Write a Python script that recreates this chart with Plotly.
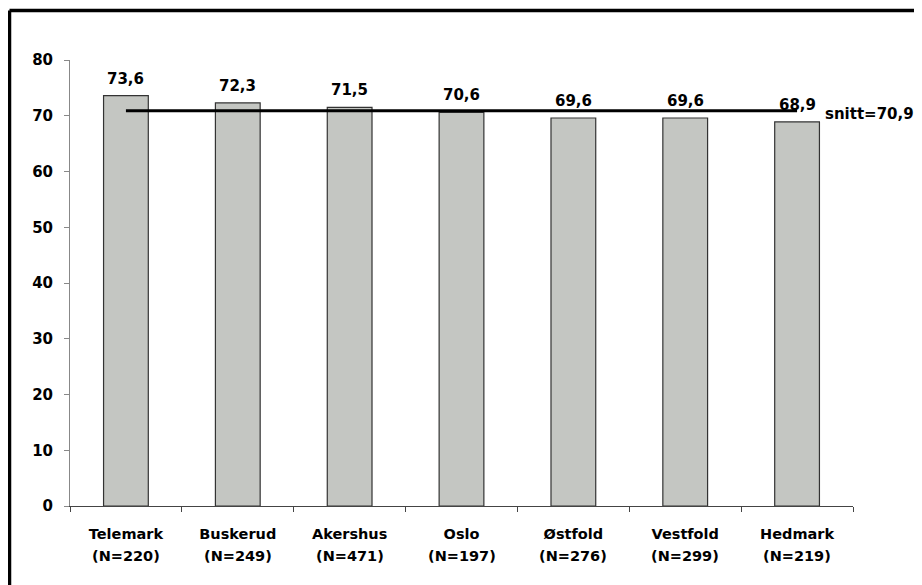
import plotly.graph_objects as go

categories = ["Telemark", "Buskerud", "Akershus", "Oslo", "Østfold", "Vestfold", "Hedmark"]
sample_sizes = [220, 249, 471, 197, 276, 299, 219]
values = [73.6, 72.3, 71.5, 70.6, 69.6, 69.6, 68.9]
mean_value = 70.9
y_ticks = [0, 10, 20, 30, 40, 50, 60, 70, 80]

bar_text = [f"<b>{v:.1f}</b>".replace(".", ",") for v in values]

font_family = "DejaVu Sans, Verdana, sans-serif"

# page has an 8px body margin; margins below compensate
ML, MR, MT, MB = 62, 77, 52, 87
W, H = 922, 585
pw, ph = W - ML - MR, H - MT - MB
bx = (1.5 - ML) / pw
by = 1 + (MT - 2.5) / ph

fig = go.Figure()
fig.add_trace(go.Bar(
    x=categories, y=values, width=0.4,
    marker=dict(color="#C4C6C2", line=dict(color="#333333", width=1.2)),
    hoverinfo="skip",
))
fig.add_trace(go.Scatter(
    x=[categories[0], categories[-1]], y=[mean_value, mean_value],
    mode="lines", line=dict(color="black", width=3.2),
    hoverinfo="skip",
))
for c, v, t, n in zip(categories, values, bar_text, sample_sizes):
    fig.add_annotation(
        x=c, y=v, xref="x", yref="y", text=t, showarrow=False,
        yanchor="bottom", yshift=6,
        font=dict(family=font_family, size=15, color="black"),
    )
    fig.add_annotation(
        x=c, y=0, xref="x", yref="paper", text=f"<b>(N={n})</b>", showarrow=False,
        yanchor="middle", yshift=-50,
        font=dict(family=font_family, size=14.5, color="black"),
    )
fig.add_annotation(
    x=categories[-1], y=mean_value, xref="x", yref="y",
    text="<b>snitt=" + f"{mean_value:.1f}".replace(".", ",") + "</b>",
    showarrow=False, xanchor="left", xshift=26, yshift=-3,
    font=dict(family=font_family, size=15, color="black"),
)

fig.update_layout(
    width=W, height=H,
    margin=dict(l=ML, r=MR, t=MT, b=MB, pad=0),
    paper_bgcolor="white", plot_bgcolor="white",
    showlegend=False,
    font=dict(family=font_family, size=14, color="black"),
    shapes=[
        dict(type="line", xref="paper", yref="paper", x0=bx, x1=1.2, y0=by, y1=by,
             line=dict(color="black", width=3.5)),
        dict(type="line", xref="paper", yref="paper", x0=bx, x1=bx, y0=by, y1=-0.3,
             line=dict(color="black", width=3.5)),
    ],
)
fig.update_xaxes(
    type="category", range=[-0.5, len(categories) - 0.5],
    tickvals=categories, ticktext=[f"<b>{c}</b>" for c in categories],
    showline=True, linecolor="#444444", linewidth=1,
    ticks="outside", ticklen=5, tickcolor="#444444", tickson="boundaries",
    ticklabelstandoff=15,
    showgrid=False, tickfont=dict(family=font_family, size=14.5, color="black"),
)
fig.update_yaxes(
    range=[0, 80], tickvals=y_ticks, ticktext=[f"<b>{t}</b>" for t in y_ticks],
    showline=True, linecolor="#888888", linewidth=1,
    ticks="outside", ticklen=5, tickcolor="#888888",
    ticklabelstandoff=8,
    showgrid=False, zeroline=False,
    tickfont=dict(family=font_family, size=15, color="black"),
)

fig.write_html("out.html")
